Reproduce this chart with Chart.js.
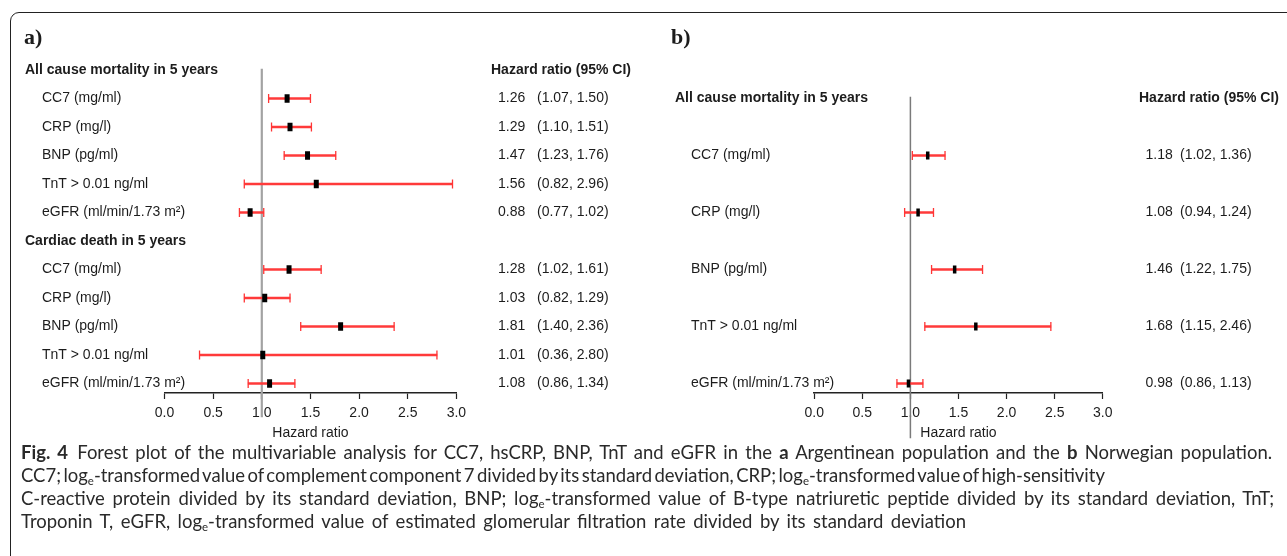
<!DOCTYPE html>
<html><head><meta charset="utf-8">
<script src="https://cdn.jsdelivr.net/npm/chart.js@4.4.1/dist/chart.umd.min.js"></script>
<style>
html,body{margin:0;padding:0;background:#fff;width:1287px;height:556px;overflow:hidden;}
#frame{position:absolute;left:10px;top:12px;width:1400px;height:700px;border:1.5px solid #222;border-radius:9px;box-sizing:border-box;}
#wa{position:absolute;left:0;top:0;width:650px;height:445px;}
#wb{position:absolute;left:650px;top:0;width:637px;height:445px;}
#cap{position:absolute;left:21px;top:441px;font-family:Lato,'Open Sans',sans-serif;color:#2a2a2a;font-size:17px;line-height:23px;}
.ln{white-space:nowrap;height:23px;}
.ln span{display:inline-block;white-space:nowrap;}
sub{font-size:0.62em;vertical-align:-0.3em;line-height:0;}
</style></head><body>
<div id="frame"></div>
<div id="wa"><canvas id="ca"></canvas></div>
<div id="wb"><canvas id="cb"></canvas></div>
<div id="cap">
<div class="ln"><span><b>Fig. 4</b>&ensp;Forest plot of the multivariable analysis for CC7, hsCRP, BNP, TnT and eGFR in the <b>a</b> Argentinean population and the <b>b</b> Norwegian population.</span></div>
<div class="ln"><span>CC7; log<sub>e</sub>-transformed value of complement component 7 divided by its standard deviation, CRP; log<sub>e</sub>-transformed value of high-sensitivity</span></div>
<div class="ln"><span>C-reactive protein divided by its standard deviation, BNP; log<sub>e</sub>-transformed value of B-type natriuretic peptide divided by its standard deviation, TnT;</span></div>
<div class="ln"><span>Troponin T, eGFR, log<sub>e</sub>-transformed value of estimated glomerular filtration rate divided by its standard deviation</span></div>
</div>
<script>
// ---------- data ----------
const markers = ['CC7 (mg/ml)', 'CRP (mg/l)', 'BNP (pg/ml)', 'TnT > 0.01 ng/ml', 'eGFR (ml/min/1.73 m\u00B2)'];
const outcomeAllCause = 'All cause mortality in 5 years';
const outcomeCardiac = 'Cardiac death in 5 years';
const columnHeader = 'Hazard ratio (95% CI)';
const axisTitle = 'Hazard ratio';

// a) Argentinean population
const hrA_all  = [1.26, 1.29, 1.47, 1.56, 0.88];
const loA_all  = [1.07, 1.10, 1.23, 0.82, 0.77];
const hiA_all  = [1.50, 1.51, 1.76, 2.96, 1.02];
const hrA_card = [1.28, 1.03, 1.81, 1.01, 1.08];
const loA_card = [1.02, 0.82, 1.40, 0.36, 0.86];
const hiA_card = [1.61, 1.29, 2.36, 2.80, 1.34];
// b) Norwegian population
const hrB_all  = [1.18, 1.08, 1.46, 1.68, 0.98];
const loB_all  = [1.02, 0.94, 1.22, 1.15, 0.86];
const hiB_all  = [1.36, 1.24, 1.75, 2.46, 1.13];

const xTicks = [0, 0.5, 1, 1.5, 2, 2.5, 3];
const xTickLabels = ['0.0', '0.5', '1.0', '1.5', '2.0', '2.5', '3.0'];
const refValue = 1;

// ---------- build rows ----------
function group(title, hr, lo, hi) {
  const out = [{ header: title }];
  markers.forEach((m, i) => out.push({ label: m, hr: hr[i], lo: lo[i], hi: hi[i] }));
  return out;
}
const rowsA = group(outcomeAllCause, hrA_all, loA_all, hiA_all).concat(group(outcomeCardiac, hrA_card, loA_card, hiA_card));
const rowsB = group(outcomeAllCause, hrB_all, loB_all, hiB_all);

const FONT = '"Liberation Sans", Arial, Helvetica, sans-serif';
const TXT = '#1c1c1c';

function makeForest(id, rows, o) {
  const items = rows.map((r, i) => Object.assign({ idx: i }, r)).filter(r => !r.header);
  const textPlugin = {
    id: 'forestText',
    afterDraw(chart) {
      const ctx = chart.ctx, y = chart.scales.y;
      ctx.save();
      ctx.fillStyle = TXT;
      ctx.textAlign = 'left';
      ctx.textBaseline = 'alphabetic';
      ctx.font = 'bold 22px "Liberation Serif", "Times New Roman", serif';
      ctx.fillText(o.letter, o.letterX, o.letterY);
      ctx.textBaseline = 'middle';
      rows.forEach((r, i) => {
        const py = y.getPixelForValue(i);
        if (r.header) {
          ctx.font = 'bold 14px ' + FONT;
          ctx.fillText(r.header, o.headX, py);
          if (i === 0) ctx.fillText(columnHeader, o.colHeadX, py);
        } else {
          ctx.font = '14px ' + FONT;
          ctx.fillText(r.label, o.labelX, py);
          ctx.fillText(r.hr.toFixed(2), o.hrX, py);
          ctx.fillText('(' + r.lo.toFixed(2) + ', ' + r.hi.toFixed(2) + ')', o.ciX, py);
        }
      });
      ctx.restore();
    }
  };
  return new Chart(document.getElementById(id), {
    type: 'scatter',
    data: {
      datasets: [
        { // point estimates
          data: items.map(r => ({ x: r.hr, y: r.idx })),
          pointStyle: 'line', pointRotation: 90, pointRadius: o.boxH / 2,
          pointBorderWidth: o.boxW, pointBorderColor: '#000', pointBackgroundColor: '#000',
          order: 0
        },
        { // CI end caps
          data: items.flatMap(r => [{ x: r.lo, y: r.idx }, { x: r.hi, y: r.idx }]),
          pointStyle: 'line', pointRotation: 90, pointRadius: 4.5,
          pointBorderWidth: 1.3, pointBorderColor: '#ff3535',
          order: 1
        },
        { // CI lines as floating horizontal bars
          type: 'bar', indexAxis: 'y',
          data: items.map(r => ({ y: r.idx, x: [r.lo, r.hi] })),
          backgroundColor: '#ff3a3a', borderWidth: 0, barThickness: 1.6, grouped: false,
          order: 2
        },
        { // reference line at HR = 1
          data: [{ x: refValue, y: o.refTop }, { x: refValue, y: o.refBottom }],
          showLine: true, pointRadius: 0, borderColor: o.refColor, borderWidth: o.refWidth,
          clip: false, order: 3
        }
      ]
    },
    options: {
      responsive: true, maintainAspectRatio: false, devicePixelRatio: 1,
      animation: false, events: [],
      layout: { padding: { left: o.padL, right: o.padR, top: o.padT, bottom: 0 } },
      plugins: { legend: { display: false }, tooltip: { enabled: false } },
      scales: {
        x: {
          type: 'linear', min: 0, max: 3, position: 'bottom', offset: false,
          afterBuildTicks: s => { s.ticks = xTicks.map(v => ({ value: v })); },
          ticks: {
            autoSkip: false, maxRotation: 0, padding: 6,
            callback: (v) => xTickLabels[xTicks.indexOf(v)],
            font: { family: FONT, size: 14 }, color: TXT
          },
          grid: { offset: false, drawOnChartArea: false, drawTicks: true, tickLength: 6, tickWidth: 1.2, tickColor: '#222' },
          border: { display: true, color: '#222', width: 1.5 },
          title: { display: true, text: axisTitle, font: { family: FONT, size: 14 }, color: TXT, padding: { top: 0, bottom: 3 } },
          afterFit: s => { s.height = 52; }
        },
        y: { type: 'linear', display: false, reverse: true, offset: false, grid: { offset: false }, min: o.yMin, max: o.yMax }
      }
    },
    plugins: [textPlugin]
  });
}

// panel a: rows spaced 28.5px; chart area from y=55.75 to 393
makeForest('ca', rowsA, {
  letter: 'a)', letterX: 24, letterY: 44,
  headX: 25, labelX: 42, hrX: 498, ciX: 537, colHeadX: 491,
  padL: 164.5, padR: 650 - 456.4, padT: 55.75,
  yMin: -0.5, yMax: 11 + 1 / 3,
  refTop: -0.04, refBottom: 12.18, refColor: '#a3a3a3', refWidth: 2.2,
  boxW: 5, boxH: 8.5
});
// panel b: rows spaced 57px
makeForest('cb', rowsB, {
  letter: 'b)', letterX: 21, letterY: 44,
  headX: 25, labelX: 41, hrX: 495.5, ciX: 530, colHeadX: 489,
  padL: 164.2, padR: 637 - 452.8, padT: 55.75,
  yMin: -0.75, yMax: 5 + 1 / 6,
  refTop: -0.03, refBottom: 5.96, refColor: '#7a7a7a', refWidth: 1.5,
  boxW: 3.5, boxH: 8
});

// ---------- fit caption lines ----------
function fitCaption() {
  const cap = document.getElementById('cap');
  const spans = [...document.querySelectorAll('#cap .ln span')];
  const targets = [1251, 1084, 1253, 945];
  cap.style.fontSize = '17px';
  spans.forEach(s => s.style.wordSpacing = '0px');
  const w2 = spans[1].getBoundingClientRect().width;
  const w4 = spans[3].getBoundingClientRect().width;
  const fs = 17 * (targets[1] + targets[3]) / (w2 + w4);
  cap.style.fontSize = fs.toFixed(2) + 'px';
  spans.forEach((s, i) => {
    const w = s.getBoundingClientRect().width;
    const n = (s.textContent.match(/ /g) || []).length;
    s.style.wordSpacing = ((targets[i] - w) / n).toFixed(2) + 'px';
  });
}
fitCaption();
if (document.fonts && document.fonts.ready) document.fonts.ready.then(fitCaption);
</script>
</body></html>
